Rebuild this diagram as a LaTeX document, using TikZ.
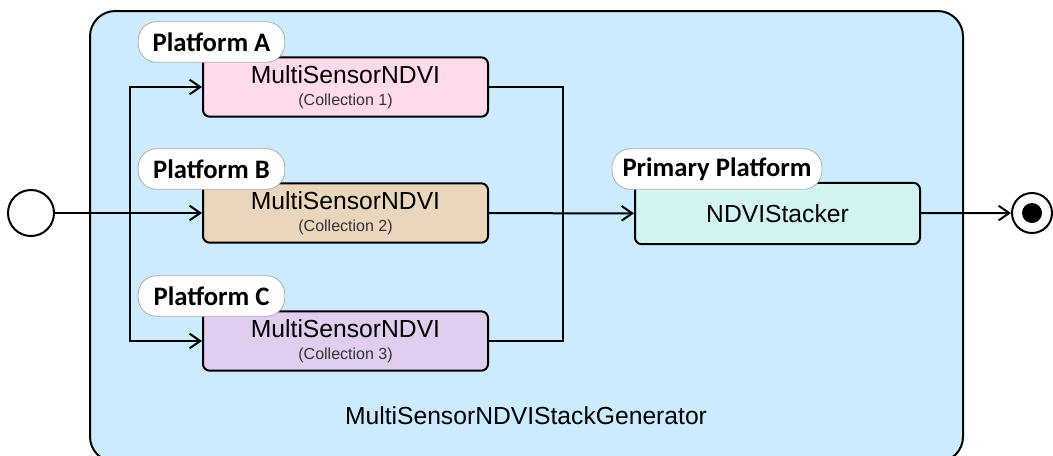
\documentclass[tikz,border=0pt]{standalone}
\usepackage{fontspec}
\setmainfont{Liberation Sans}
\newfontfamily\labelfont{Carlito}
\usepackage{tikz}
\usetikzlibrary{shapes.geometric,arrows.meta}
\definecolor{panel}{RGB}{204,235,254}
\definecolor{pinkish}{RGB}{255,218,235}
\definecolor{tan}{RGB}{234,213,189}
\definecolor{lavender}{RGB}{225,205,238}
\definecolor{mint}{RGB}{210,245,243}
\definecolor{bubbleline}{RGB}{175,175,175}
\tikzstyle{activity} = [rectangle, rounded corners=5pt, minimum width=213.75pt, minimum height=44.5pt, draw=black, line width=1.5pt, align=center, inner sep=0pt]
\tikzstyle{platform} = [rectangle, rounded corners=14pt, minimum width=110pt, minimum height=30.5pt, draw=bubbleline, line width=0.6pt, fill=white, inner sep=0pt, font=\labelfont\bfseries\fontsize{20}{22}\selectfont]
\tikzstyle{arrow} = [line width=1.5pt,->,>={Straight Barb[length=8pt,width=11pt,line width=1.5pt]}]
\tikzstyle{line} = [line width=1.5pt]
\newcommand{\mainname}[1]{{\fontsize{18.5}{20}\selectfont #1}}
\newcommand{\collname}[1]{{\fontsize{12}{14}\selectfont\color{black!80}#1}}

\begin{document}
\begin{tikzpicture}[x=0.75pt,y=-0.75pt]
\useasboundingbox (0,0) rectangle (1053,455);
\draw[fill=panel, line width=1.5pt, rounded corners=19pt] (90,11) rectangle (963,462);
\node (generator) at (526,416) {\mainname{MultiSensorNDVIStackGenerator}};

\node (start) [circle, draw=black, line width=1.5pt, fill=white, minimum size=34.5pt, inner sep=0pt] at (31,213) {};
\node (finish) [circle, draw=black, line width=1.5pt, fill=white, minimum size=30pt, inner sep=0pt] at (1032,213) {};
\fill[black] (finish.center) circle (7.5pt);

\node (ndviA) [activity, fill=pinkish] at (345.5,87) {\mainname{MultiSensorNDVI}\\[4.5pt]\collname{(Collection 1)}};
\node (ndviB) [activity, fill=tan] at (345.5,213) {\mainname{MultiSensorNDVI}\\[4.5pt]\collname{(Collection 2)}};
\node (ndviC) [activity, fill=lavender] at (345.5,341) {\mainname{MultiSensorNDVI}\\[4.5pt]\collname{(Collection 3)}};
\node (stacker) [activity, fill=mint, minimum height=46pt] at (777.5,213.5) {\mainname{NDVIStacker}};

\coordinate (fork) at (130,213);
\coordinate (join) at (563,213);
\draw[arrow] (start) -- (ndviB);
\draw[arrow] (fork) |- (ndviA);
\draw[arrow] (fork) |- (ndviC);
\draw[line] (ndviA) -| (join);
\draw[line] (ndviC) -| (join);
\draw[arrow] (ndviB) -- (stacker);
\draw[arrow] (stacker) -- (finish);

\node (labelA) [platform] at (211.5,42) {Platform A};
\node (labelB) [platform] at (211.5,169) {Platform B};
\node (labelC) [platform] at (211.5,296) {Platform C};
\node (labelP) [platform, minimum width=157.5pt] at (717,169) {Primary Platform};
\end{tikzpicture}
\end{document}
